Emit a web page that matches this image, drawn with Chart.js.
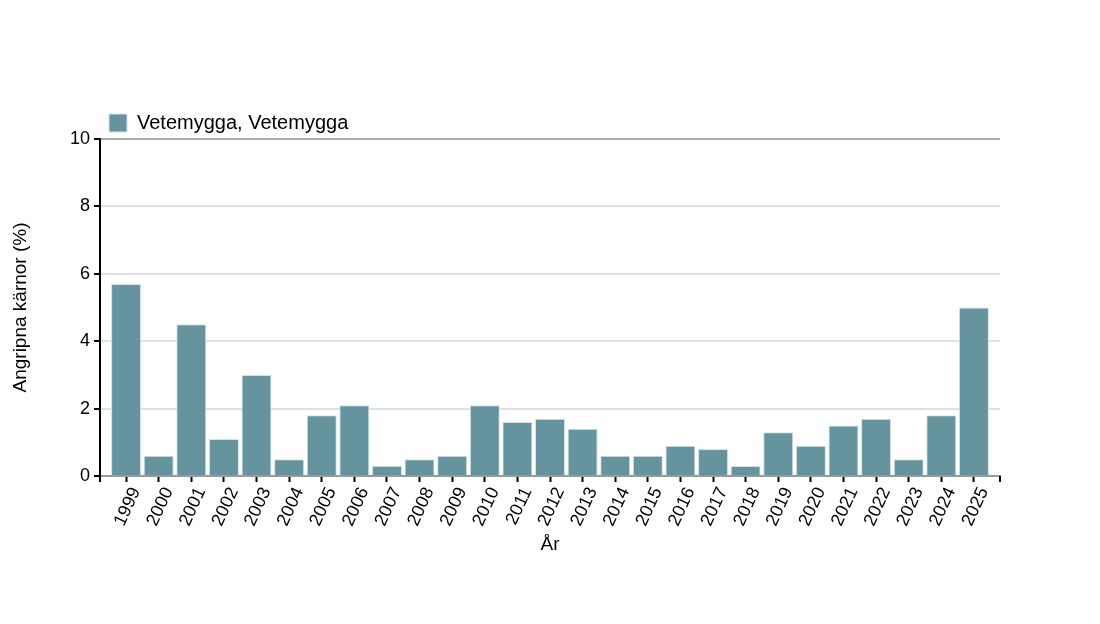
<!DOCTYPE html>
<html>
<head>
<meta charset="utf-8">
<script src="https://cdn.jsdelivr.net/npm/chart.js@4"></script>
<style>
  body { margin: 0; background: #fff; }
</style>
</head>
<body>
<canvas id="barChart" width="1100" height="624"></canvas>
<script>
const years = ['1999', '2000', '2001', '2002', '2003', '2004', '2005', '2006', '2007', '2008',
  '2009', '2010', '2011', '2012', '2013', '2014', '2015', '2016', '2017', '2018',
  '2019', '2020', '2021', '2022', '2023', '2024', '2025'];
const infested = [5.7, 0.6, 4.5, 1.1, 3.0, 0.5, 1.8, 2.1, 0.3, 0.5,
  0.6, 2.1, 1.6, 1.7, 1.4, 0.6, 0.6, 0.9, 0.8, 0.3,
  1.3, 0.9, 1.5, 1.7, 0.5, 1.8, 5.0];
const yTicks = [0, 2, 4, 6, 8, 10];

Chart.defaults.font.family = '"Liberation Sans", Arial, sans-serif';
Chart.defaults.font.size = 18;
Chart.defaults.color = '#000';

// outer ticks at both ends of the x axis
const endTicks = {
  id: 'endTicks',
  afterDraw(chart) {
    const ctx = chart.ctx;
    const a = chart.chartArea;
    ctx.save();
    ctx.strokeStyle = '#000';
    ctx.lineWidth = 2;
    ctx.beginPath();
    ctx.moveTo(a.left, a.bottom);
    ctx.lineTo(a.left, a.bottom + 6);
    ctx.moveTo(a.right, a.bottom);
    ctx.lineTo(a.right, a.bottom + 6);
    ctx.stroke();
    ctx.restore();
  }
};

// nudge the legend down towards the plot
const legendShift = {
  id: 'legendShift',
  afterLayout(chart) {
    if (chart.legend) {
      chart.legend.top += 4;
      chart.legend.bottom += 4;
    }
  }
};

const ctx = document.getElementById('barChart').getContext('2d');
const barChart = new Chart(ctx, {
  type: 'bar',
  data: {
    datasets: [{
      label: 'Vetemygga, Vetemygga',
      data: infested.map((v, i) => ({ x: i, y: v })),
      backgroundColor: '#65949e',
      borderColor: '#d4e2e5',
      borderWidth: 1,
      barPercentage: 0.92,
      categoryPercentage: 1
    }]
  },
  options: {
    responsive: false,
    animation: false,
    layout: {
      padding: { left: 0, right: 100, top: 100, bottom: 48 }
    },
    plugins: {
      legend: {
        fullSize: false,
        align: 'start',
        labels: {
          boxWidth: 18,
          boxHeight: 18,
          padding: 9,
          color: '#000',
          font: { size: 20 }
        }
      },
      tooltip: { enabled: false }
    },
    scales: {
      x: {
        type: 'linear',
        offset: false,
        min: -0.8,
        max: years.length - 0.2,
        afterBuildTicks(scale) {
          scale.ticks = years.map((y, i) => ({ value: i }));
        },
        grid: {
          display: true,
          drawOnChartArea: false,
          offset: false,
          tickLength: 6,
          tickColor: '#000',
          tickWidth: 2
        },
        border: { color: '#999', width: 2 },
        ticks: {
          minRotation: 65,
          maxRotation: 65,
          autoSkip: false,
          padding: 2,
          labelOffset: 10,
          callback: (v) => years[v]
        },
        title: {
          display: true,
          text: 'År',
          font: { size: 19 },
          padding: { top: 0, bottom: 20 }
        },
        afterFit(scale) { scale.height = 100; }
      },
      y: {
        min: 0,
        max: 10,
        afterBuildTicks(scale) {
          scale.ticks = yTicks.map(v => ({ value: v }));
        },
        grid: {
          color: (c) => c.tick && c.tick.value === 10 ? '#aaa' : '#e0e0e0',
          lineWidth: 2,
          tickLength: 6,
          tickColor: '#000',
          tickWidth: 2
        },
        border: { color: '#000', width: 2 },
        ticks: { padding: 4 },
        title: {
          display: true,
          text: 'Angripna kärnor (%)',
          font: { size: 19 },
          padding: { top: 9, bottom: 0 }
        },
        afterFit(scale) { scale.width = 100; }
      }
    }
  },
  plugins: [endTicks, legendShift]
});
</script>
</body>
</html>
